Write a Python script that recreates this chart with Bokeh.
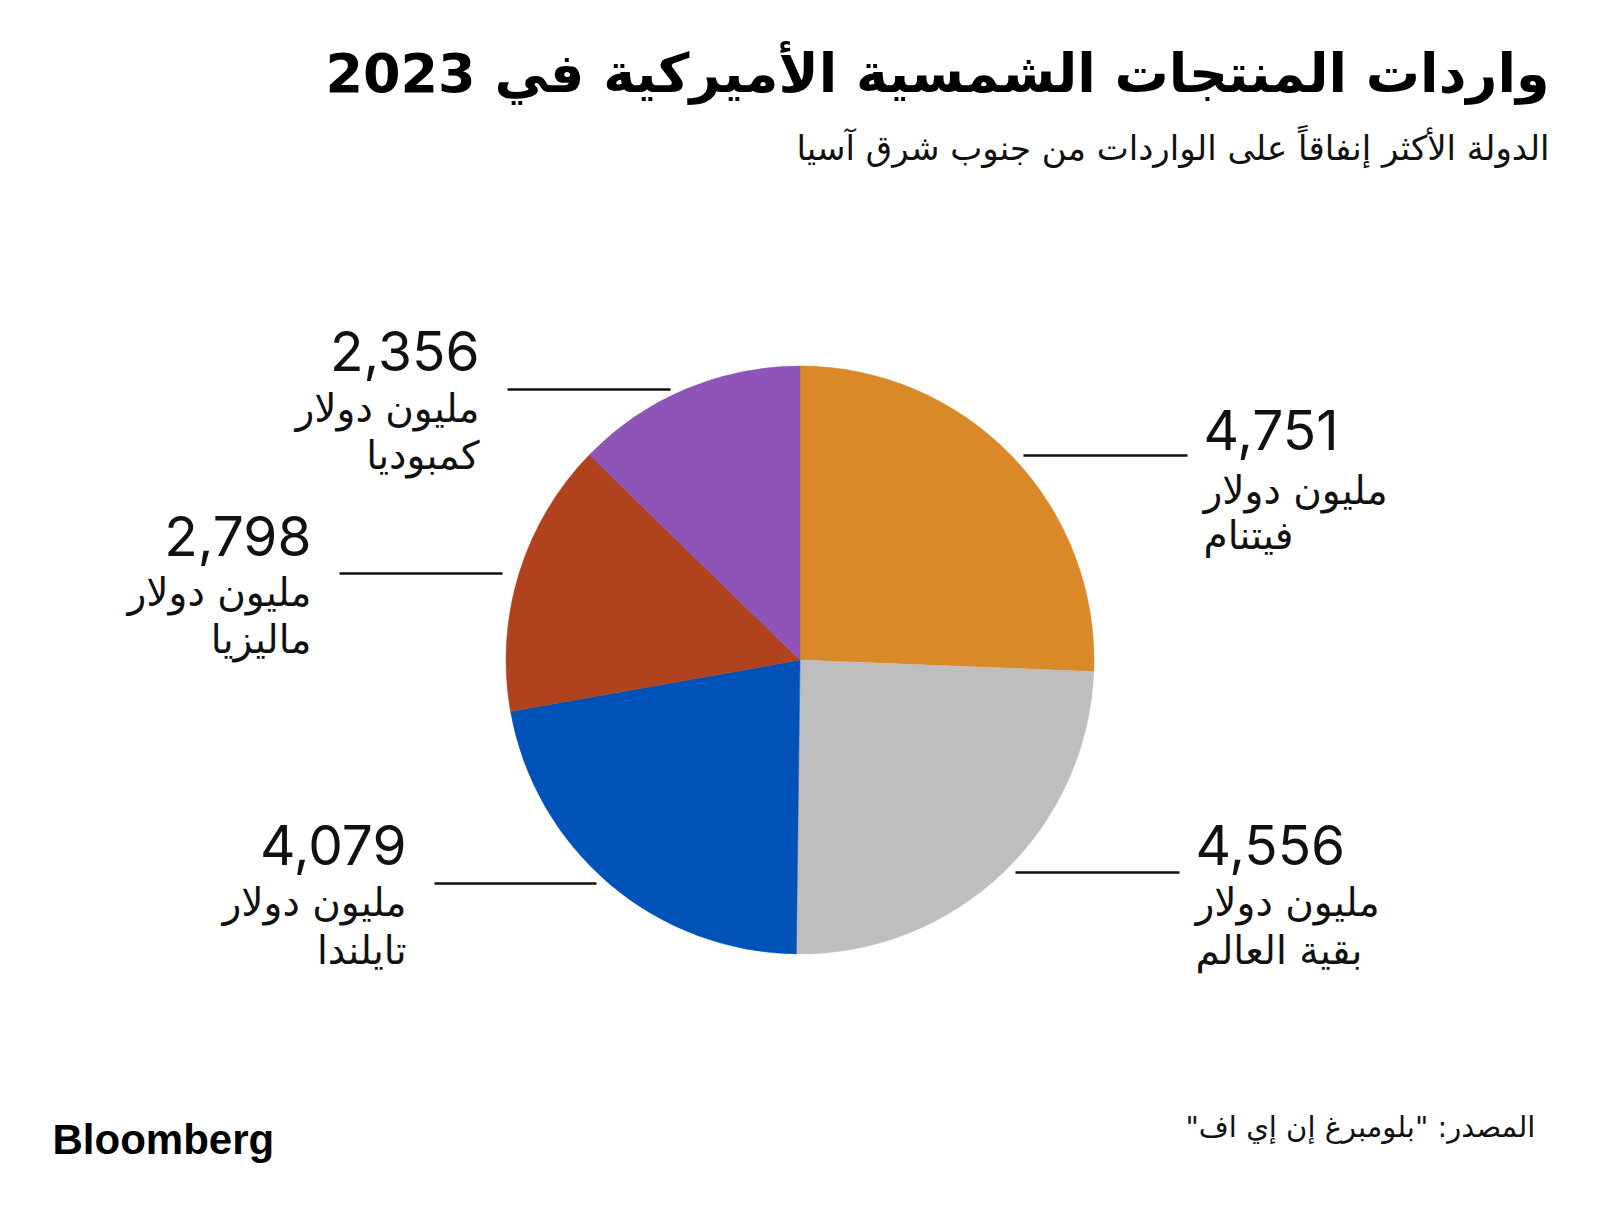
import math
from bokeh.plotting import figure
from bokeh.models import Range1d
from bokeh.core.properties import value
from bokeh.embed import file_html
from bokeh.resources import INLINE

# ---- data ----
countries = ["فيتنام", "بقية العالم", "تايلندا", "ماليزيا", "كمبوديا"]
values = [4751, 4556, 4079, 2798, 2356]
colors = ["#D98927", "#BEBEBE", "#0052B9", "#B0421E", "#8E54B7"]
unit_label = "مليون دولار"
title = "واردات المنتجات الشمسية الأميركية في 2023"
subtitle = "الدولة الأكثر إنفاقاً على الواردات من جنوب شرق آسيا"
source = "\u200fالمصدر:  \"بلومبرغ إن إي اف\"\u200f"

# ---- layout (screen pixels of the page) ----
W, H = 1584, 1200
OFF = 0
def X(sx):
    return sx - OFF
def Y(sy):
    return H - (sy - OFF)

# empirical baseline correction (fraction of font size)
K_NUM = 0.37
K_AR = 0.30
K_BOLD = 0.36

def TY(sy, size, k):
    return Y(sy - k * size)

CX, CY, R = 799.5, 659.5, 294
# per-slice label layout: side, text x, number baseline, line1 baseline, line2 baseline, leader x0, x1, y
label_layout = [
    ("left", 1203, 450, 502, 547, 1023, 1187, 455),
    ("left", 1195, 865, 914, 962, 1015, 1179, 872),
    ("right", 406, 865, 914, 962, 434, 596, 883),
    ("right", 311, 556, 604, 651, 339, 502, 573),
    ("right", 479, 371, 420, 467, 507, 670, 389),
]

p = figure(width=W, height=H, output_backend="svg", toolbar_location=None,
           x_range=Range1d(0, W), y_range=Range1d(0, H), min_border=0)
p.axis.visible = False
p.grid.visible = False
p.outline_line_color = None
p.background_fill_color = "white"
p.border_fill_color = "white"

total = sum(values)
cum = 0.0
starts, ends = [], []
for v in values:
    a0 = math.pi / 2 - 2 * math.pi * cum / total
    cum += v
    a1 = math.pi / 2 - 2 * math.pi * cum / total
    starts.append(a1)
    ends.append(a0)

p.wedge(x=[X(CX)] * len(values), y=[Y(CY)] * len(values), radius=R,
        start_angle=starts, end_angle=ends, direction="anticlock",
        fill_color=colors, line_color=colors, line_width=0.5)

num_font = value("Inter")
ar_font = value("DejaVu Sans")
NUM_SIZE = 55
AR_SIZE = 39
for name, v, lay in zip(countries, values, label_layout):
    side, tx, nb, b1, b2, lx0, lx1, ly = lay
    align = "left" if side == "left" else "right"
    p.segment(x0=[X(lx0)], y0=[Y(ly)], x1=[X(lx1)], y1=[Y(ly)],
              line_color="#111111", line_width=2.5)
    p.text(x=[X(tx)], y=[TY(nb, NUM_SIZE, K_NUM)], text=[f"{v:,}"], text_font=num_font,
           text_font_size=f"{NUM_SIZE}px", text_align=align, text_baseline="alphabetic",
           text_color="#111111")
    p.text(x=[X(tx)], y=[TY(b1, AR_SIZE, K_AR)], text=[unit_label], text_font=ar_font,
           text_font_size=f"{AR_SIZE}px", text_align=align, text_baseline="alphabetic",
           text_color="#111111")
    p.text(x=[X(tx)], y=[TY(b2, AR_SIZE, K_AR)], text=[name], text_font=ar_font,
           text_font_size=f"{AR_SIZE}px", text_align=align, text_baseline="alphabetic",
           text_color="#111111")

# title and subtitle
p.text(x=[X(1549)], y=[TY(92, 54, K_BOLD)], text=[title], text_font=ar_font,
       text_font_size="54px", text_font_style="bold", text_align="right",
       text_baseline="alphabetic", text_color="#000000")
p.text(x=[X(1549)], y=[TY(158, 34, K_AR)], text=[subtitle], text_font=ar_font,
       text_font_size="34px", text_align="right",
       text_baseline="alphabetic", text_color="#111111")

# footer
p.text(x=[X(52)], y=[TY(1154, 42, K_BOLD)], text=["Bloomberg"], text_font=value("Liberation Sans"),
       text_font_size="42px", text_font_style="bold", text_align="left",
       text_baseline="alphabetic", text_color="#000000")
p.text(x=[X(1544)], y=[TY(1135, 29, K_AR)], text=[source], text_font=ar_font,
       text_font_size="29px", text_align="right",
       text_baseline="alphabetic", text_color="#111111")

open("out.html", "w").write(file_html(p, INLINE))
